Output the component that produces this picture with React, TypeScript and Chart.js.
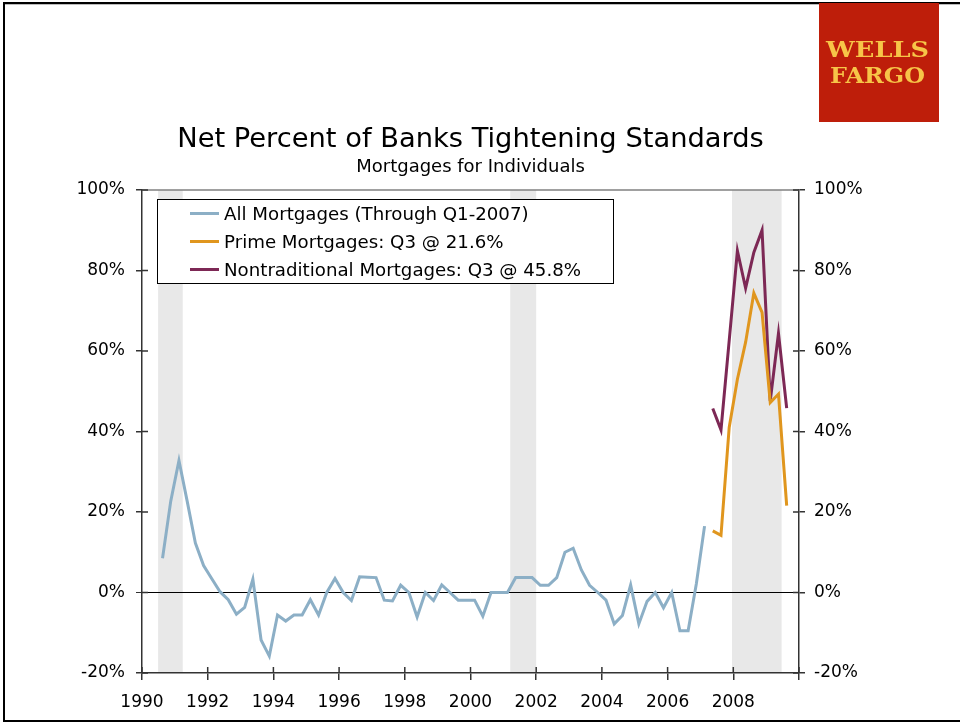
import React, { useEffect, useRef } from "react";
import { Chart, registerables } from "chart.js";

Chart.register(...registerables);

// ---------- data ----------
const allQuarters: string[] = [
  "1990Q3", "1990Q4",
  "1991Q1", "1991Q2", "1991Q3", "1991Q4",
  "1992Q1", "1992Q2", "1992Q3", "1992Q4",
  "1993Q1", "1993Q2", "1993Q3", "1993Q4",
  "1994Q1", "1994Q2", "1994Q3", "1994Q4",
  "1995Q1", "1995Q2", "1995Q3", "1995Q4",
  "1996Q1", "1996Q2", "1996Q3", "1996Q4",
  "1997Q1", "1997Q2", "1997Q3", "1997Q4",
  "1998Q1", "1998Q2", "1998Q3", "1998Q4",
  "1999Q1", "1999Q2", "1999Q3", "1999Q4",
  "2000Q1", "2000Q2", "2000Q3", "2000Q4",
  "2001Q1", "2001Q2", "2001Q3", "2001Q4",
  "2002Q1", "2002Q2", "2002Q3", "2002Q4",
  "2003Q1", "2003Q2", "2003Q3", "2003Q4",
  "2004Q1", "2004Q2", "2004Q3", "2004Q4",
  "2005Q1", "2005Q2", "2005Q3", "2005Q4",
  "2006Q1", "2006Q2", "2006Q3", "2006Q4",
  "2007Q1",
];
const allMortgages: number[] = [
  8.5, 22.7, 32.8, 22.7, 12.3, 6.7, 3.4, 0.2, -1.8, -5.4,
  -3.7, 3.3, -11.8, -15.8, -5.6, -7.1, -5.6, -5.6, -1.8, -5.6,
  0, 3.5, 0, -2.0, 3.9, 3.8, 3.7, -1.9, -2.1, 1.8,
  0, -6.1, 0, -2.0, 1.9, 0, -1.9, -1.9, -1.9, -5.9,
  0, 0, 0, 3.7, 3.7, 3.7, 1.8, 1.8, 3.7, 10.0,
  11.0, 5.6, 1.8, 0, -1.9, -7.8, -5.7, 1.9, -7.8, -2.2,
  0, -3.8, 0, -9.5, -9.5, 2.2, 16.5,
];
const newQuarters: string[] = [
  "2007Q2", "2007Q3", "2007Q4", "2008Q1", "2008Q2",
  "2008Q3", "2008Q4", "2009Q1", "2009Q2", "2009Q3",
];
const primeMortgages: number[] = [15.3, 14.2, 41.0, 53.0, 62.2, 74.4, 69.6, 47.2, 49.3, 21.6];
const nontraditionalMortgages: number[] = [45.7, 40.4, 62.6, 84.9, 75.6, 84.5, 90.0, 47.6, 64.4, 45.8];

const recessionStarts: number[] = [1990.49, 2001.21, 2007.96];
const recessionEnds: number[] = [1991.24, 2002.0, 2009.47];

const seriesLabels: string[] = [
  "All Mortgages (Through Q1-2007)",
  "Prime Mortgages: Q3 @ 21.6%",
  "Nontraditional Mortgages: Q3 @ 45.8%",
];
const seriesColors: string[] = ["#8CAFC6", "#E0961E", "#7D2855"];
const titleText = "Net Percent of Banks Tightening Standards";
const subtitleText = "Mortgages for Individuals";
const yMin = -20;
const yMax = 100;
const yStep = 20;
const xMin = 1990;
const xMax = 2010;
const xStep = 2;

// quarter label -> decimal year at the middle of the quarter
const quarterToYear = (q: string): number => {
  const y = parseInt(q.slice(0, 4), 10);
  const n = parseInt(q.slice(5), 10);
  return y + (n - 1) * 0.25 + 0.125;
};

const FONT = '"DejaVu Sans", Verdana, sans-serif';

const decorPlugin = {
  id: "decor",
  beforeDraw(chart: any) {
    const { ctx, chartArea: a, scales } = chart;
    const x = scales.x;
    ctx.save();
    ctx.fillStyle = "#E8E8E8";
    recessionStarts.forEach((s, i) => {
      const x0 = x.getPixelForValue(s);
      const x1 = x.getPixelForValue(recessionEnds[i]);
      ctx.fillRect(x0, a.top, x1 - x0, a.bottom - a.top);
    });
    ctx.restore();
  },
  afterDraw(chart: any) {
    const { ctx, chartArea: a, scales } = chart;
    ctx.save();
    // top border of plot
    ctx.strokeStyle = "#808080";
    ctx.lineWidth = 1.5;
    ctx.beginPath();
    ctx.moveTo(a.left, a.top);
    ctx.lineTo(a.right, a.top);
    ctx.stroke();

    // inner halves of the cross ticks
    ctx.strokeStyle = "#333";
    ctx.lineWidth = 1.5;
    ctx.beginPath();
    scales.y.ticks.forEach((t: any) => {
      const p = scales.y.getPixelForValue(t.value);
      ctx.moveTo(a.left, p);
      ctx.lineTo(a.left + 6, p);
      ctx.moveTo(a.right - 6, p);
      ctx.lineTo(a.right, p);
    });
    scales.x.ticks.forEach((t: any) => {
      const p = scales.x.getPixelForValue(t.value);
      ctx.moveTo(p, a.bottom);
      ctx.lineTo(p, a.bottom - 6);
    });
    ctx.stroke();

    // legend
    const lx = a.left + 15;
    const ly = a.top + 9;
    ctx.fillStyle = "#fff";
    ctx.fillRect(lx, ly, 456, 84);
    ctx.strokeStyle = "#000";
    ctx.lineWidth = 1;
    ctx.strokeRect(lx + 0.5, ly + 0.5, 456, 84);
    ctx.font = `18.2px ${FONT}`;
    ctx.textBaseline = "middle";
    ctx.textAlign = "left";
    seriesLabels.forEach((label, i) => {
      const cy = ly + 16 + i * 28;
      ctx.strokeStyle = seriesColors[i];
      ctx.lineWidth = 3;
      ctx.beginPath();
      ctx.moveTo(lx + 33, cy - 1.5);
      ctx.lineTo(lx + 62, cy - 1.5);
      ctx.stroke();
      ctx.fillStyle = "#000";
      ctx.fillText(label, lx + 67, cy);
    });

    // titles
    const cx = (a.left + a.right) / 2;
    ctx.textAlign = "center";
    ctx.textBaseline = "alphabetic";
    ctx.fillStyle = "#000";
    ctx.font = `27.3px ${FONT}`;
    ctx.fillText(titleText, cx, a.top - 43);
    ctx.font = `18px ${FONT}`;
    ctx.fillText(subtitleText, cx, a.top - 18);

    // logo
    ctx.fillStyle = "#BE1E0A";
    ctx.fillRect(819, 3, 120, 119);
    ctx.fillStyle = "#F7C548";
    ctx.font = `bold 22px "DejaVu Serif", serif`;
    ctx.textAlign = "left";
    const drawFit = (txt: string, left: number, width: number, base: number) => {
      const w = ctx.measureText(txt).width;
      ctx.save();
      ctx.translate(left, base);
      ctx.scale(width / w, 1);
      ctx.fillText(txt, 0, 0);
      ctx.restore();
    };
    drawFit("WELLS", 826, 103, 57);
    drawFit("FARGO", 830, 95, 82.5);
    ctx.restore();
  },
};

export default function App() {
  const ref = useRef<HTMLCanvasElement | null>(null);

  useEffect(() => {
    document.body.style.margin = "0";
    const canvas = ref.current;
    if (!canvas) return;
    const mk = (qs: string[], vs: number[]) => qs.map((q, i) => ({ x: quarterToYear(q), y: vs[i] }));
    const lineStyle = (i: number) => ({
      label: seriesLabels[i],
      borderColor: seriesColors[i],
      backgroundColor: seriesColors[i],
      borderWidth: 3,
      pointRadius: 0,
      tension: 0,
      fill: false,
    });
    const chart = new Chart(canvas, {
      type: "line",
      data: {
        datasets: [
          { ...lineStyle(0), data: mk(allQuarters, allMortgages) },
          { ...lineStyle(1), data: mk(newQuarters, primeMortgages) },
          { ...lineStyle(2), data: mk(newQuarters, nontraditionalMortgages) },
        ],
      },
      options: {
        animation: false,
        responsive: false,
        maintainAspectRatio: false,
        devicePixelRatio: 1,
        layout: { padding: { top: 190, left: 0, right: 0, bottom: 0 } },
        plugins: {
          legend: { display: false },
          title: { display: false },
          tooltip: { enabled: false },
        },
        scales: {
          x: {
            type: "linear",
            min: xMin,
            max: xMax,
            afterFit: (s: any) => { s.height = 50; },
            ticks: {
              stepSize: xStep,
              padding: 12,
              maxRotation: 0,
              autoSkip: false,
              color: "#000",
              font: { family: FONT, size: 17 },
              callback: (v: any) => (v === xMax ? "" : String(v)),
            },
            grid: {
              drawOnChartArea: false,
              drawTicks: true,
              tickLength: 7,
              color: "#333",
              lineWidth: 1.5,
            },
            border: { display: true, color: "#333", width: 1.5 },
          },
          y: {
            position: "left",
            min: yMin,
            max: yMax,
            afterFit: (s: any) => { s.width = 142; },
            ticks: {
              stepSize: yStep,
              padding: 11,
              color: "#000",
              font: { family: FONT, size: 17 },
              callback: (v: any) => `${v}%`,
            },
            grid: {
              drawOnChartArea: true,
              drawTicks: true,
              tickLength: 6,
              color: (c: any) => (c.tick && c.tick.value === 0 ? "#000" : "rgba(0,0,0,0)"),
              tickColor: "#333",
              lineWidth: (c: any) => (c.tick && c.tick.value === 0 ? 1 : 1.5),
            },
            border: { display: true, color: "#333", width: 1.5 },
          },
          y2: {
            position: "right",
            min: yMin,
            max: yMax,
            afterFit: (s: any) => { s.width = 161; },
            ticks: {
              stepSize: yStep,
              padding: 9,
              color: "#000",
              font: { family: FONT, size: 17 },
              callback: (v: any) => `${v}%`,
            },
            grid: {
              drawOnChartArea: false,
              drawTicks: true,
              tickLength: 6,
              color: "#333",
              lineWidth: 1.5,
            },
            border: { display: true, color: "#333", width: 1.5 },
          },
        },
      },
      plugins: [decorPlugin],
    } as any);
    return () => chart.destroy();
  }, []);

  return (
    <div style={{ position: "relative", width: 960, height: 723, overflow: "hidden", background: "#fff" }}>
      <div
        style={{
          position: "absolute",
          left: 3,
          top: 2,
          width: 990,
          height: 716,
          borderTop: "2px solid #000",
          borderLeft: "2px solid #000",
          borderBottom: "2px solid #000",
          boxShadow: "inset 0 1px 0 #bbb",
        }}
      />
      <canvas ref={ref} width={960} height={723} style={{ position: "absolute", left: 0, top: 0 }} />
    </div>
  );
}
